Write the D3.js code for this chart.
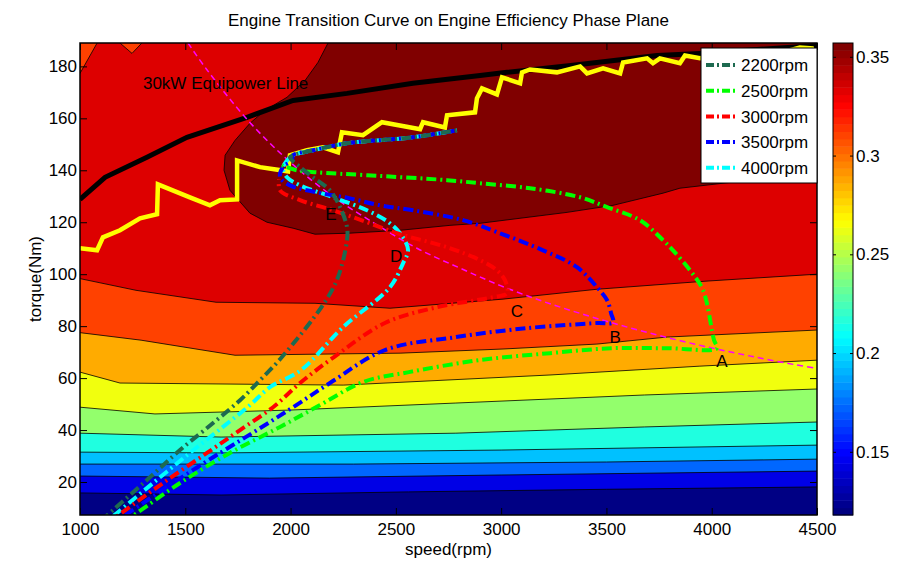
<!DOCTYPE html>
<html><head><meta charset="utf-8">
<script src="https://cdn.jsdelivr.net/npm/d3@7"></script>
<style>body{margin:0;background:#fff;} text{font-family:"Liberation Sans",Arial,Helvetica,sans-serif;fill:#000;}</style>
</head><body><svg id="c" width="923" height="578"></svg>
<script>
// ---------------- DATA ----------------
const xTicks=[1000,1500,2000,2500,3000,3500,4000,4500];
const yTicks=[20,40,60,80,100,120,140,160,180];
const cbTicks=[0.15,0.2,0.25,0.3,0.35];
const speedDomain=[1000,4500];
const torqueDomain=[7.3,189];
const effDomain=[0.118,0.357];
// efficiency value of each filled band, bottom to top
const bandLevels=[0.119,0.142,0.172,0.193,0.215,0.242,0.264,0.287,0.312,0.335,0.357];
// contour boundaries [speed, torque], bottom to top
const bNavyBlue=[[1000,15.8],[1670,15],[2560,16.2],[3500,17.2],[4500,18.1]];
const bBlueDodger=[[1000,22.3],[1900,21.5],[3000,22.7],[4500,24.2]];
const bDodgerSky=[[1000,26.9],[2300,26.9],[3500,27.7],[4500,28.8]];
const bSkyAqua=[[1000,31.5],[1670,31.2],[3000,32.3],[4500,34.2]];
const bAquaGreen=[[1000,38.8],[1670,37.3],[2785,38.8],[3680,41.2],[4500,43.1]];
const bGreenYellow=[[1000,48.8],[1356,46.2],[2000,47.7],[2785,50.4],[3680,53.5],[4500,55.8]];
const bYellowOrange=[[1000,62.3],[1190,58.1],[2250,57.3],[3232,61.2],[3944,64.6],[4500,66.9]];
const bOrangeOrangered=[[1000,77.5],[1290,74.6],[1736,68.8],[2116,69.2],[2520,69.6],[3009,71.2],[3455,73.1],[3788,75.8],[4500,78.5]];
const bOrangeredRed=[[1000,98.3],[1266,93.8],[1646,89.2],[2116,88.8],[2472,86.9],[3009,90.4],[3455,94.2],[3968,97.3],[4500,100]];
const bRedDarkred=[[2197,192],[2130,181.5],[2069,174.6],[1983,168.1],[1879,163.1],[1807,158.1],[1736,151.5],[1689,145.8],[1684,140],[1712,132.3],[1807,123.5],[1888,120],[2012,117.7],[2116,115.4],[2282,115.8],[2520,116.9],[2757,118.8],[2900,119.6],[3313,123.8],[3531,126.5],[3769,131.2],[3849,133.1],[4500,139.2]];
const patchCorner=[[1000,192],[1102,192],[1000,177.3]];
const patchNotch=[[1147,192],[1247,185],[1329,192]];

const equipowerLine=[[1000,128.8],[1119,137.3],[1318,145],[1508,152.7],[1793,160.4],[2012,166.9],[2268,169.6],[2581,173.5],[2900,176.5],[3028,177.7],[3341,180.4],[3740,184.2],[3944,185],[4500,188]];
const optimalLine=[[1000,110],[1081,109.2],[1109,114.2],[1190,116.9],[1285,121.5],[1366,123.1],[1370,134.6],[1522,129.6],[1617,126.5],[1665,128.5],[1746,128.8],[1746,143.8],[1855,141.2],[1988,139.6],[1997,145.8],[2078,147.7],[2154,148.8],[2225,146.9],[2244,154.6],[2344,153.5],[2434,158.5],[2615,155.8],[2629,158.5],[2733,156.5],[2743,161.2],[2876,162.3],[2885,167.7],[2909,171.5],[2980,169.2],[3004,175.8],[3090,173.5],[3099,177.7],[3137,178.8],[3265,177.7],[3375,180],[3408,177.3],[3484,179.2],[3565,177.3],[3579,181.5],[3693,183.1],[3721,181.2],[3754,183.1],[3849,181.2],[3873,184.2],[3944,183.1],[4182,185.4],[4372,186.2],[4419,187.3],[4476,186.9],[4490,183.1],[4500,183.8]];
const powerHyperbola=[[1513,189],[1600,179],[1800,159],[2000,143],[2200,130],[2400,119.5],[2600,110],[2800,102.5],[3000,95.5],[3200,89.5],[3400,84.3],[3600,79.6],[3800,75.4],[4000,71.6],[4200,68.2],[4400,65.1],[4500,63.7]];

const upperBranch=[[2012,145.8],[2107,147.7],[2268,150.4],[2581,152.7],[2790,155.4]];
const curve2200=[[1100,5],[1157,9.2],[1318,20.8],[1475,32.3],[1632,42.7],[1760,51.5],[1855,59.2],[1959,68.1],[2159,88.8],[2225,98.8],[2268,113.1],[2268,118.1],[2235,125.8],[2187,132.3],[2107,137.3],[2045,141.2],[1997,145]];
const curve2500=[[1216,5],[1271,8.1],[1475,19.6],[1712,31.2],[1950,41.2],[2140,49.6],[2344,58.5],[2562,62.3],[2895,66.9],[3232,69.6],[3522,71.5],[3788,71.5],[4025,71.5],[4011,74.6],[3959,93.8],[3897,101.5],[3816,109.2],[3769,113.1],[3659,120.8],[3503,125.8],[3375,129.6],[3137,133.1],[2900,135],[2743,136.2],[2363,138.1],[2126,139.2],[2031,140],[1959,141.9]];
const curve3000=[[1144,5],[1204,8.5],[1394,19.6],[1603,31.2],[1760,40],[1917,48.8],[2045,58.1],[2206,68.1],[2448,81.2],[2695,87.3],[2966,91.2],[3028,92.7],[3018,97.7],[2980,101.5],[2900,105.4],[2743,110.4],[2520,115.4],[2363,120],[2202,124.6],[2045,128.5],[1950,132.3],[1945,136.5]];
const curve3500=[[1172,5],[1237,8.5],[1442,19.6],[1665,31.2],[1841,40],[2012,48.8],[2187,58.1],[2448,70.8],[2786,75.8],[3118,79.2],[3455,81.2],[3531,81.5],[3522,85],[3503,90],[3455,95],[3360,102.7],[3199,109.2],[2980,116.2],[2819,120.8],[2581,124.6],[2425,126.5],[2282,129.2],[2126,131.5],[1997,134.2],[1950,137.3],[1964,141.2],[2007,143.8]];
const curve4000=[[1130,5],[1176,8.1],[1347,19.6],[1522,31.2],[1679,41.2],[1807,49.6],[1902,56.5],[2050,63.1],[2249,79.6],[2472,95],[2534,104.2],[2558,109.2],[2534,114.2],[2472,119.6],[2363,124.6],[2202,129.6],[2045,134.2],[1983,137.3],[1964,140.8],[1983,143.8]];
const seriesNames=["2200rpm","2500rpm","3000rpm","3500rpm","4000rpm"];
const seriesColors=["#1e6a50","#00ff00","#ff0000","#0000ff","#00ffff"];
const seriesData=[curve2200,curve2500,curve3000,curve3500,curve4000];
const seriesUpper=[true,false,false,true,true];
const pointLabels=[{t:"A",s:4049,q:64.2},{t:"B",s:3541,q:73.5},{t:"C",s:3075,q:83.5},{t:"D",s:2501,q:104.6},{t:"E",s:2192,q:120.8}];

// ---------------- DRAW ----------------
const P={l:80,r:817,t:43,b:515};
const x=d3.scaleLinear().domain(speedDomain).range([P.l,P.r]);
const y=d3.scaleLinear().domain(torqueDomain).range([P.b,P.t]);
const svg=d3.select("#c");
function jet(t){const c=v=>Math.max(0,Math.min(1,v));
  return d3.rgb(255*c(Math.min(4*t-1.5,-4*t+4.5)),255*c(Math.min(4*t-0.5,-4*t+3.5)),255*c(Math.min(4*t+0.5,-4*t+2.5))).toString();}
const effColor=v=>jet((v-effDomain[0])/(effDomain[1]-effDomain[0]));

svg.append("defs").append("clipPath").attr("id","clip").append("rect")
  .attr("x",P.l).attr("y",P.t).attr("width",P.r-P.l).attr("height",P.b-P.t);
const g=svg.append("g").attr("clip-path","url(#clip)");
const lin=d3.line().x(d=>x(d[0])).y(d=>y(d[1]));
const topT=torqueDomain[1]+10;

g.append("rect").attr("x",P.l).attr("y",P.t).attr("width",P.r-P.l).attr("height",P.b-P.t).attr("fill",effColor(bandLevels[0]));
const bounds=[bNavyBlue,bBlueDodger,bDodgerSky,bSkyAqua,bAquaGreen,bGreenYellow,bYellowOrange,bOrangeOrangered,bOrangeredRed];
bounds.forEach((b,i)=>{
  g.append("path").attr("d",lin(b.concat([[speedDomain[1],topT],[speedDomain[0],topT]]))+"Z").attr("fill",effColor(bandLevels[i+1]));
});
g.append("path").attr("d",lin(bRedDarkred.concat([[speedDomain[1],topT],[bRedDarkred[0][0],topT]]))+"Z").attr("fill",effColor(bandLevels[10]));
[patchCorner,patchNotch].forEach(p=>g.append("path").attr("d",lin(p)+"Z").attr("fill",effColor(bandLevels[8])).attr("stroke","#000").attr("stroke-width",0.8));
bounds.concat([bRedDarkred]).forEach(b=>g.append("path").attr("d",lin(b)).attr("fill","none").attr("stroke","#000").attr("stroke-width",0.8));

g.append("path").attr("d",lin(equipowerLine)).attr("fill","none").attr("stroke","#000").attr("stroke-width",5);
g.append("path").attr("d",lin(optimalLine)).attr("fill","none").attr("stroke","#ffff00").attr("stroke-width",4.5).attr("stroke-linejoin","miter");
const smooth=d3.line().x(d=>x(d[0])).y(d=>y(d[1])).curve(d3.curveCatmullRom.alpha(0.5));
g.append("path").attr("d",smooth(powerHyperbola)).attr("fill","none").attr("stroke","#ff00ff").attr("stroke-width",1.5).attr("stroke-dasharray","6,4");

const dash="10,4,2,4";
for(let i=seriesData.length-1;i>=0;i--){
  const pts=seriesUpper[i]?seriesData[i].concat(upperBranch):seriesData[i];
  g.append("path").attr("d",smooth(pts)).attr("fill","none").attr("stroke",seriesColors[i]).attr("stroke-width",4).attr("stroke-dasharray",dash).attr("stroke-dashoffset",i*3);
}
pointLabels.forEach(p=>g.append("text").attr("x",x(p.s)).attr("y",y(p.q)).attr("text-anchor","middle").attr("font-size",17).text(p.t));
g.append("text").attr("x",x(1299)).attr("y",y(171.2)).attr("font-size",17).text("30kW Equipower Line");

// axes
const fs=17;
const ax=(gen,tr)=>{const a=svg.append("g").attr("transform",tr).call(gen);a.select(".domain").remove();a.selectAll("line").attr("stroke","#000");a.selectAll("text").attr("font-size",fs).attr("font-family","Liberation Sans, Arial, sans-serif");return a;};
ax(d3.axisBottom(x).tickValues(xTicks).tickSize(-7).tickPadding(8).tickFormat(d3.format("d")),`translate(0,${P.b})`);
ax(d3.axisTop(x).tickValues(xTicks).tickSize(-7).tickFormat(""),`translate(0,${P.t})`);
ax(d3.axisLeft(y).tickValues(yTicks).tickSize(-7).tickPadding(3),`translate(${P.l},0)`);
ax(d3.axisRight(y).tickValues(yTicks).tickSize(-7).tickFormat(""),`translate(${P.r},0)`);
svg.append("rect").attr("x",P.l).attr("y",P.t).attr("width",P.r-P.l).attr("height",P.b-P.t).attr("fill","none").attr("stroke","#000").attr("stroke-width",1.5);

// legend
const L={x:701,y:48,w:116,h:135};
const lg=svg.append("g");
lg.append("rect").attr("x",L.x).attr("y",L.y).attr("width",L.w).attr("height",L.h).attr("fill","#fff").attr("stroke","#000").attr("stroke-width",1);
seriesNames.forEach((n,i)=>{
  const cy=L.y+17+i*25.7;
  lg.append("line").attr("x1",L.x+5).attr("x2",L.x+37).attr("y1",cy).attr("y2",cy).attr("stroke",seriesColors[i]).attr("stroke-width",4).attr("stroke-dasharray","8,3,2,3");
  lg.append("text").attr("x",L.x+40).attr("y",cy).attr("dy","0.36em").attr("font-size",fs).text(n);
});

// colorbar
const CB={x:833,w:20,t:43,b:515};
const cbScale=d3.scaleLinear().domain(effDomain).range([CB.b,CB.t]);
const nC=64;
for(let i=0;i<nC;i++){
  const y0=CB.b-(i+1)*(CB.b-CB.t)/nC;
  svg.append("rect").attr("x",CB.x).attr("y",y0).attr("width",CB.w).attr("height",(CB.b-CB.t)/nC+0.5).attr("fill",jet(i/(nC-1)));
}
ax(d3.axisRight(cbScale).tickValues(cbTicks).tickSize(-3).tickPadding(3).tickFormat(d=>String(d)),`translate(${CB.x+CB.w},0)`);
ax(d3.axisLeft(cbScale).tickValues(cbTicks).tickSize(-3).tickFormat(""),`translate(${CB.x},0)`);
svg.append("rect").attr("x",CB.x).attr("y",CB.t).attr("width",CB.w).attr("height",CB.b-CB.t).attr("fill","none").attr("stroke","#000").attr("stroke-width",1);

// titles
svg.append("text").attr("x",(P.l+P.r)/2).attr("y",26).attr("text-anchor","middle").attr("font-size",fs).text("Engine Transition Curve on Engine Efficiency Phase Plane");
svg.append("text").attr("x",(P.l+P.r)/2).attr("y",555).attr("text-anchor","middle").attr("font-size",fs).text("speed(rpm)");
svg.append("text").attr("transform",`translate(41,${(P.t+P.b)/2}) rotate(-90)`).attr("text-anchor","middle").attr("font-size",fs).text("torque(Nm)");
</script></body></html>
